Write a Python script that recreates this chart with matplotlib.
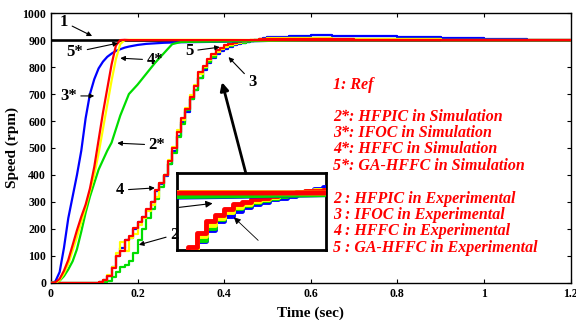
import numpy as np
import matplotlib
matplotlib.use('Agg')
import matplotlib.pyplot as plt

plt.rcParams['font.family'] = ['Liberation Serif', 'DejaVu Serif']
plt.rcParams['font.weight'] = 'bold'

# reference speed
t_ref = [0.0, 1.2]
ref = [900, 900]

# simulation responses (rpm)
t_sim = [0, 0.01, 0.02, 0.03, 0.04, 0.05, 0.06, 0.07, 0.08, 0.09, 0.10, 0.11, 0.12,
         0.13, 0.14, 0.15, 0.16, 0.17, 0.18, 0.20, 0.22, 0.24, 0.26, 0.28, 0.30,
         0.35, 0.40, 0.50, 0.60, 0.80, 1.00, 1.20]
sim_hfpic = [0, 1, 8, 25, 50, 80, 125, 190, 260, 320, 370, 420, 455,
             490, 520, 570, 620, 660, 700, 735, 775, 815, 850, 885, 893,
             894, 895, 897, 899, 900, 900, 900]
sim_ifoc = [0, 5, 40, 130, 240, 320, 400, 490, 610, 700, 755, 795, 820,
            838, 850, 860, 866, 872, 876, 882, 886, 888, 890, 891, 892,
            893, 894, 897, 899, 900, 900, 900]
sim_hffc = [0, 1, 10, 35, 70, 120, 170, 225, 280, 340, 400, 480, 570,
            660, 750, 830, 885, 900, 901, 901, 901, 901, 901, 901, 901,
            901, 901, 900, 900, 900, 900, 900]
sim_gahffc = [0, 2, 15, 45, 85, 140, 195, 245, 290, 350, 430, 530, 630,
              720, 810, 880, 900, 901, 900, 900, 900, 900, 900, 900, 900,
              900, 900, 900, 900, 900, 900, 900]

# experimental responses (rpm)
t_exp = [0, 0.10, 0.11, 0.12, 0.13, 0.14, 0.15, 0.16, 0.17, 0.18, 0.19, 0.20,
         0.21, 0.22, 0.23, 0.24, 0.25, 0.26, 0.27, 0.28, 0.29, 0.30, 0.31,
         0.32, 0.33, 0.34, 0.35, 0.36, 0.37, 0.38, 0.39, 0.40, 0.41, 0.42,
         0.43, 0.44, 0.45, 0.46, 0.47, 0.48, 0.49, 0.50, 0.55, 0.60, 0.65,
         0.70, 0.80, 0.90, 1.00, 1.10, 1.20]
exp_hfpic = [0, 0, 0, 2, 8, 20, 40, 60, 65, 80, 110, 160,
             200, 240, 275, 310, 355, 400, 440, 480, 540, 590, 640,
             680, 715, 760, 795, 818, 838, 855, 866, 873, 879, 884,
             888, 891, 894, 897, 900, 902, 904, 905, 907, 906, 905,
             904, 903, 902, 901, 900, 900]
exp_ifoc = [0, 0, 3, 10, 25, 60, 100, 130, 160, 165, 200, 225,
            245, 270, 300, 340, 365, 395, 440, 490, 545, 595, 635,
            680, 715, 760, 790, 815, 835, 850, 860, 868, 875, 880,
            885, 889, 892, 895, 899, 903, 907, 911, 915, 918, 916,
            914, 912, 908, 904, 902, 901]
exp_hffc = [0, 0, 3, 12, 30, 60, 110, 150, 120, 165, 180, 215,
            240, 265, 290, 320, 370, 400, 455, 505, 565, 605, 650,
            695, 735, 775, 800, 825, 843, 857, 867, 875, 881, 886,
            890, 893, 896, 899, 901, 903, 905, 906, 907, 906, 905,
            904, 903, 902, 901, 900, 900]
exp_gahffc = [0, 0, 3, 10, 25, 55, 100, 120, 160, 175, 205, 225,
              245, 275, 300, 345, 370, 400, 450, 500, 560, 610, 645,
              690, 730, 780, 805, 830, 850, 862, 872, 880, 885, 889,
              892, 895, 897, 899, 901, 903, 904, 905, 905, 904, 903,
              902, 901, 900, 900, 900, 900]

legend_lines = ['1: Ref', '',
                '2*: HFPIC in Simulation', '3*: IFOC in Simulation',
                '4*: HFFC in Simulation', '5*: GA-HFFC in Simulation', '',
                '2 : HFPIC in Experimental', '3 : IFOC in Experimental',
                '4 : HFFC in Experimental', '5 : GA-HFFC in Experimental']

BLUE = '#0000ff'
RED = '#ff0000'
YEL = '#ffff00'
GRN = '#00dd00'


def draw_curves(a, lw):
    a.plot(t_ref, ref, color='k', lw=lw + 0.3, zorder=2)
    a.plot(t_exp, exp_ifoc, color=BLUE, lw=lw, drawstyle='steps-post', zorder=3)
    a.plot(t_exp, exp_hfpic, color=GRN, lw=lw, drawstyle='steps-post', zorder=3)
    a.plot(t_exp, exp_hffc, color=YEL, lw=lw, drawstyle='steps-post', zorder=3)
    a.plot(t_exp, exp_gahffc, color=RED, lw=lw, drawstyle='steps-post', zorder=3)
    a.plot(t_sim, sim_ifoc, color=BLUE, lw=lw, zorder=4)
    a.plot(t_sim, sim_hfpic, color=GRN, lw=lw, zorder=4)
    a.plot(t_sim, sim_hffc, color=YEL, lw=lw, zorder=4)
    a.plot(t_sim, sim_gahffc, color=RED, lw=lw, zorder=4)


fig = plt.figure(figsize=(5.76, 3.2), dpi=100)
ax = fig.add_axes([0.0885, 0.116, 0.902, 0.843])
draw_curves(ax, 1.6)

ax.set_xlim(0, 1.2)
ax.set_ylim(0, 1000)
ax.set_xticks(np.arange(0, 1.21, 0.2))
ax.set_xticklabels(['0', '0.2', '0.4', '0.6', '0.8', '1', '1.2'])
ax.set_yticks(np.arange(0, 1001, 100))
ax.tick_params(direction='in', top=True, right=True, labelsize=8.5, length=3, width=0.8)
for lab in ax.get_xticklabels() + ax.get_yticklabels():
    lab.set_fontweight('bold')
for s in ax.spines.values():
    s.set_linewidth(1.0)
ax.set_xlabel('Time (sec)', fontsize=11, fontweight='bold', labelpad=5)
ax.set_ylabel('Speed (rpm)', fontsize=11, fontweight='bold', labelpad=2)

# curve labels with arrows
arr = dict(arrowstyle='-|>', color='k', lw=0.8, mutation_scale=7, shrinkA=1, shrinkB=0)
labels = [('1', (0.03, 967), (0.095, 915)),
          ('5*', (0.055, 855), (0.155, 889)),
          ('4*', (0.24, 826), (0.16, 833)),
          ('3*', (0.04, 693), (0.1, 693)),
          ('2*', (0.245, 511), (0.153, 518)),
          ('5', (0.32, 859), (0.39, 874)),
          ('3', (0.465, 745), (0.41, 837)),
          ('4', (0.16, 344), (0.24, 352)),
          ('2', (0.285, 178), (0.203, 141))]
for txt, xyt, xy in labels:
    ax.annotate(txt, xy=xy, xytext=xyt, fontsize=12, fontweight='bold',
                ha='center', va='center', arrowprops=arr, zorder=6)

# legend text
tkw = dict(color=RED, fontsize=11.5, fontweight='bold', style='italic', va='center')
ax.text(0.652, 733, legend_lines[0], **tkw)
y0 = 615
for i, line in enumerate(legend_lines[2:6]):
    ax.text(0.652, y0 - i * 60, line, **tkw)
y0 = 311
for i, line in enumerate(legend_lines[7:]):
    ax.text(0.652, y0 - i * 60, line, **tkw)

# zoom inset
axin = ax.inset_axes([0.29, 122, 0.345, 285], transform=ax.transData, zorder=5)
draw_curves(axin, 3.5)
axin.set_xlim(0.337, 0.503)
axin.set_ylim(800, 935)
axin.set_xticks([])
axin.set_yticks([])
for s in axin.spines.values():
    s.set_linewidth(2)
axin.annotate('', xy=(0.26, 0.61), xytext=(0.0, 0.55), xycoords='axes fraction',
              arrowprops=dict(arrowstyle='-|>', color='k', lw=0.8, mutation_scale=10))
axin.annotate('', xy=(0.37, 0.45), xytext=(0.56, 0.1), xycoords='axes fraction',
              arrowprops=dict(arrowstyle='-|>', color='k', lw=0.6, mutation_scale=10))

ax.annotate('', xy=(0.395, 744), xytext=(0.45, 407),
            arrowprops=dict(arrowstyle='-|>', color='k', lw=2, mutation_scale=12,
                            shrinkA=0, shrinkB=0), zorder=6)

fig.savefig('out.png', dpi=100)
